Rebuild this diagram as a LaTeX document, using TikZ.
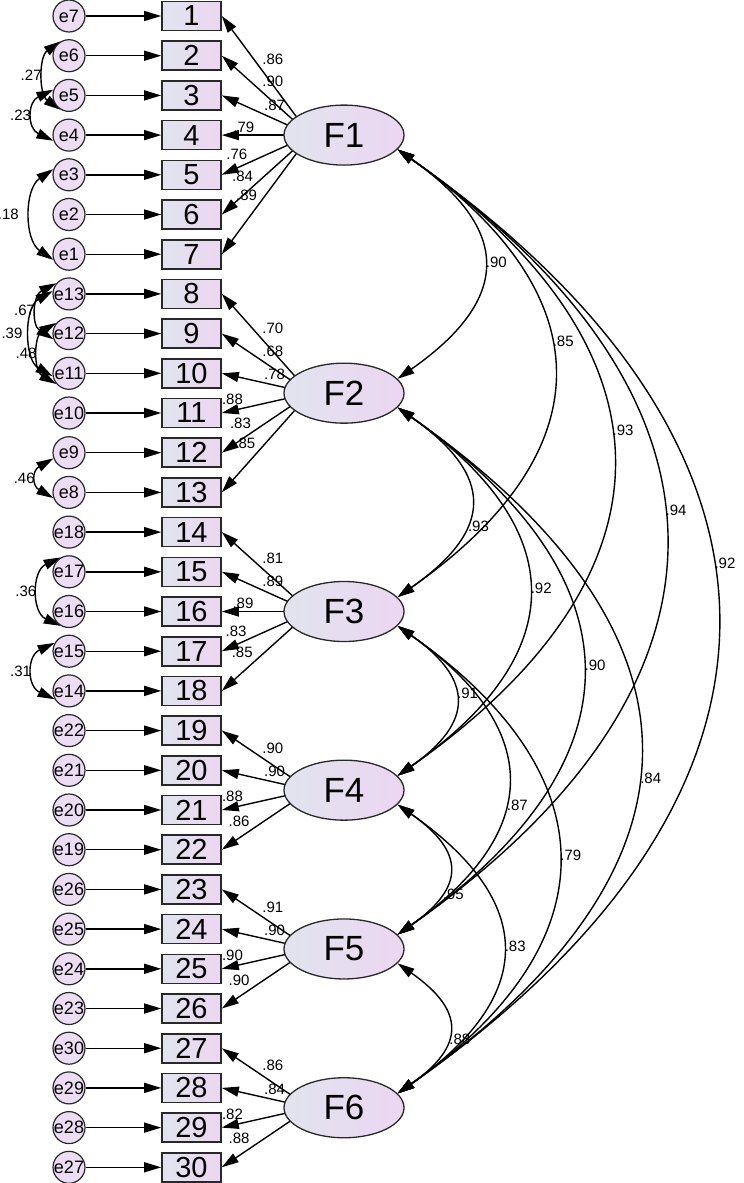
\documentclass[tikz,border=0pt]{standalone}
\usepackage{fontspec}
\setmainfont{Liberation Sans}
\usetikzlibrary{positioning,calc,arrows.meta,shapes.geometric}
\pgfdeclarelayer{background}
\pgfsetlayers{background,main}
\definecolor{boxleft}{RGB}{225,228,238}
\definecolor{boxright}{RGB}{236,214,242}
\definecolor{errfill}{RGB}{237,221,244}
\definecolor{rimgray}{RGB}{40,40,40}
\newcommand\errpairs{1/7,2/6,3/5,4/4,5/3,6/2,7/1,8/13,9/12,10/11,11/10,12/9,13/8,14/18,15/17,16/16,17/15,18/14,19/22,20/21,21/20,22/19,23/26,24/25,25/24,26/23,27/30,28/29,29/28,30/27}

\begin{document}
\begin{tikzpicture}[x=1pt,y=1pt,>={Triangle[length=17pt,width=10pt]},auto,
    node distance=39.7pt,
    item node/.style={rectangle,draw=rimgray,line width=1.6pt,left color=boxleft,right color=boxright,
      minimum width=59pt,minimum height=29pt,inner sep=0pt,font=\fontsize{29}{29}\selectfont},
    error node/.style={circle,draw=rimgray,line width=1.2pt,fill=errfill,minimum size=32pt,
      inner sep=-5pt,font=\fontsize{18}{18}\selectfont},
    factor node/.style={ellipse,draw=rimgray,line width=1.3pt,left color=boxleft,right color=boxright,
      minimum width=120pt,minimum height=60pt,inner sep=0pt,font=\fontsize{35}{35}\selectfont},
    coef/.style={font=\fontsize{15}{15}\selectfont,inner sep=2pt},
    link/.style={line width=1.4pt}]

  \useasboundingbox (0,0) rectangle (744,-1183);

  % observed items
  \node[item node] (b1) at (191.5,-16) {1};
  \foreach \i [count=\j from 2] in {1,...,29}
    \node[item node] (b\j) [below of=b\i] {\j};

  % error terms
  \foreach \i/\k in \errpairs
    \node[error node] (e\k) [node distance=122.5pt,left of=b\i] {e\k};

  % factors
  \node[factor node] (F1) at ($(b4)+(152.5,0)$) {F1};
  \node[factor node] (F2) at ($(b10)!0.5!(b11)+(152.5,0)$) {F2};
  \node[factor node] (F3) at ($(b16)+(152.5,0)$) {F3};
  \node[factor node] (F4) at ($(b20)!0.5!(b21)+(152.5,0)$) {F4};
  \node[factor node] (F5) at ($(b24)!0.5!(b25)+(152.5,0)$) {F5};
  \node[factor node] (F6) at ($(b28)!0.5!(b29)+(152.5,0)$) {F6};
  \foreach \f in {1,...,6}
    \coordinate (a\f) at ($(F\f)+(-34,0)$);

  \begin{pgfonlayer}{background}
  \begin{scope}[link]
    \foreach \i/\k in \errpairs
      \draw[->] (e\k) -- (b\i);

    \foreach \f/\i/\v/\p in {1/1/.86/0.57,1/2/.90/0.57,1/3/.87/0.55,1/4/.79/0.75,1/5/.76/0.68,1/6/.84/0.615,1/7/.89/0.57,
        2/8/.70/0.57,2/9/.68/0.57,2/10/.78/0.55,2/11/.88/0.73,2/12/.83/0.64,2/13/.85/0.59,
        3/14/.81/0.57,3/15/.89/0.57,3/16/.89/0.76,3/17/.83/0.69,3/18/.85/0.62,
        4/19/.90/0.57,4/20/.90/0.55,4/21/.88/0.73,4/22/.86/0.655,
        5/23/.91/0.57,5/24/.90/0.55,5/25/.90/0.73,5/26/.90/0.655,
        6/27/.86/0.57,6/28/.84/0.55,6/29/.82/0.73,6/30/.88/0.655}
      \draw[->] (a\f) -- node[coef,pos=\p,swap] {\v} (b\i.east);

    \draw[<->] (e6.120) to[bend right=55] node[coef,left] {.27} (e5.240);
    \draw[<->] (e5.160) to[bend right=65,looseness=1.45] node[coef,left] {.23} (e4.200);
    \draw[<->] (e3.160) to[bend right=56] node[coef,left=10pt] {.18} (e1.200);
    \draw[<->] (e13.140) to[bend right=60,looseness=1.2] node[coef,left] {.67} (e12.200);
    \draw[<->] (e13.170) to[bend right=60] node[coef,left=6pt] {.39} (e11.190);
    \draw[<->] (e12.140) to[bend right=60,looseness=1.1] node[coef,left] {.48} (e11.220);
    \draw[<->] (e9.200) to[bend right=60,looseness=1.6] node[coef,left] {.46} (e8.200);
    \draw[<->] (e17.120) to[bend right=65,looseness=1.2] node[coef,left] {.36} (e16.240);
    \draw[<->] (e15.150) to[bend right=65,looseness=1.4] node[coef,left] {.31} (e14.210);

    \foreach \a/\b/\v/\p/\l in {1/2/.90/0.49/1.56,1/3/.85/0.43/1.45,1/4/.93/0.45/1.43,1/5/.94/0.46/1.42,
        1/6/.92/0.44/1.41,2/3/.93/0.63/1.60,2/4/.92/0.49/1.48,2/5/.90/0.49/1.46,2/6/.84/0.54/1.47,
        3/4/.91/0.45/1.60,3/5/.87/0.58/1.48,3/6/.79/0.49/1.43,4/5/.95/0.70/1.63,4/6/.83/0.49/1.51,
        5/6/.88/0.59/1.63}
      \draw[<->] (F\a.-15) to[out=-35,in=35,looseness=\l] node[coef,pos=\p,right] {\v} (F\b.15);
  \end{scope}
  \end{pgfonlayer}
\end{tikzpicture}
\end{document}
